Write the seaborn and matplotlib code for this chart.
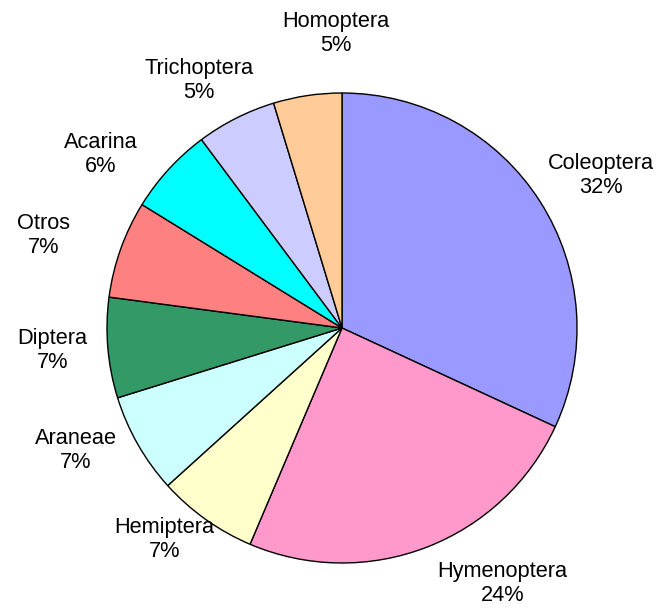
import matplotlib
matplotlib.use('Agg')
import matplotlib.pyplot as plt
import seaborn as sns
import numpy as np

# data, clockwise from 12 o'clock
orders = ['Coleoptera', 'Hymenoptera', 'Hemiptera', 'Araneae', 'Diptera',
          'Otros', 'Acarina', 'Trichoptera', 'Homoptera']
share = [31.9, 24.5, 6.9, 6.9, 6.9, 6.7, 6.0, 5.5, 4.7]
pct_labels = ['32%', '24%', '7%', '7%', '7%', '7%', '6%', '5%', '5%']
colours = ['#9999FF', '#FF99CC', '#FFFFCC', '#CCFFFF', '#339966',
           '#FF8080', '#00FFFF', '#CCCCFF', '#FFCC99']

# label layout: angle shift from wedge middle (deg) and radial distance
lab_shift = [-2.4, 10.9, -4.3, -4.6, 0.0, 2.7, 7.0, 3.4, -7.3]
lab_dist = [1.277, 1.29, 1.18, 1.25, 1.237, 1.328, 1.26, 1.21, 1.246]

sns.set_style('white')
plt.rcParams['font.family'] = ['Liberation Sans', 'DejaVu Sans']

fig = plt.figure(figsize=(6.61, 6.12), dpi=100)
w, h = 470 / 661, 470 / 612
cx, cy = 342 / 661, (612 - 328) / 612
ax = fig.add_axes([cx - w / 2, cy - h / 2, w, h])

labels = [f'{o}\n{p}' for o, p in zip(orders, pct_labels)]
wedges, texts = ax.pie(share, labels=labels, colors=sns.color_palette(colours),
                       startangle=90, counterclock=False, radius=1,
                       wedgeprops={'edgecolor': 'black', 'linewidth': 1},
                       textprops={'fontsize': 15.7, 'color': 'black'})
for wd, t, s, d in zip(wedges, texts, lab_shift, lab_dist):
    ang = np.deg2rad((wd.theta1 + wd.theta2) / 2 + s)
    t.set_position((d * np.cos(ang), d * np.sin(ang) + 0.008))
    t.set_ha('center')
    t.set_va('center')
    t.set_multialignment('center')
    t.set_linespacing(1.2)
    t.set_clip_on(False)

ax.set_xlim(-1, 1)
ax.set_ylim(-1, 1)
ax.set_aspect('equal')
ax.axis('off')

fig.savefig('out.png', dpi=100)
